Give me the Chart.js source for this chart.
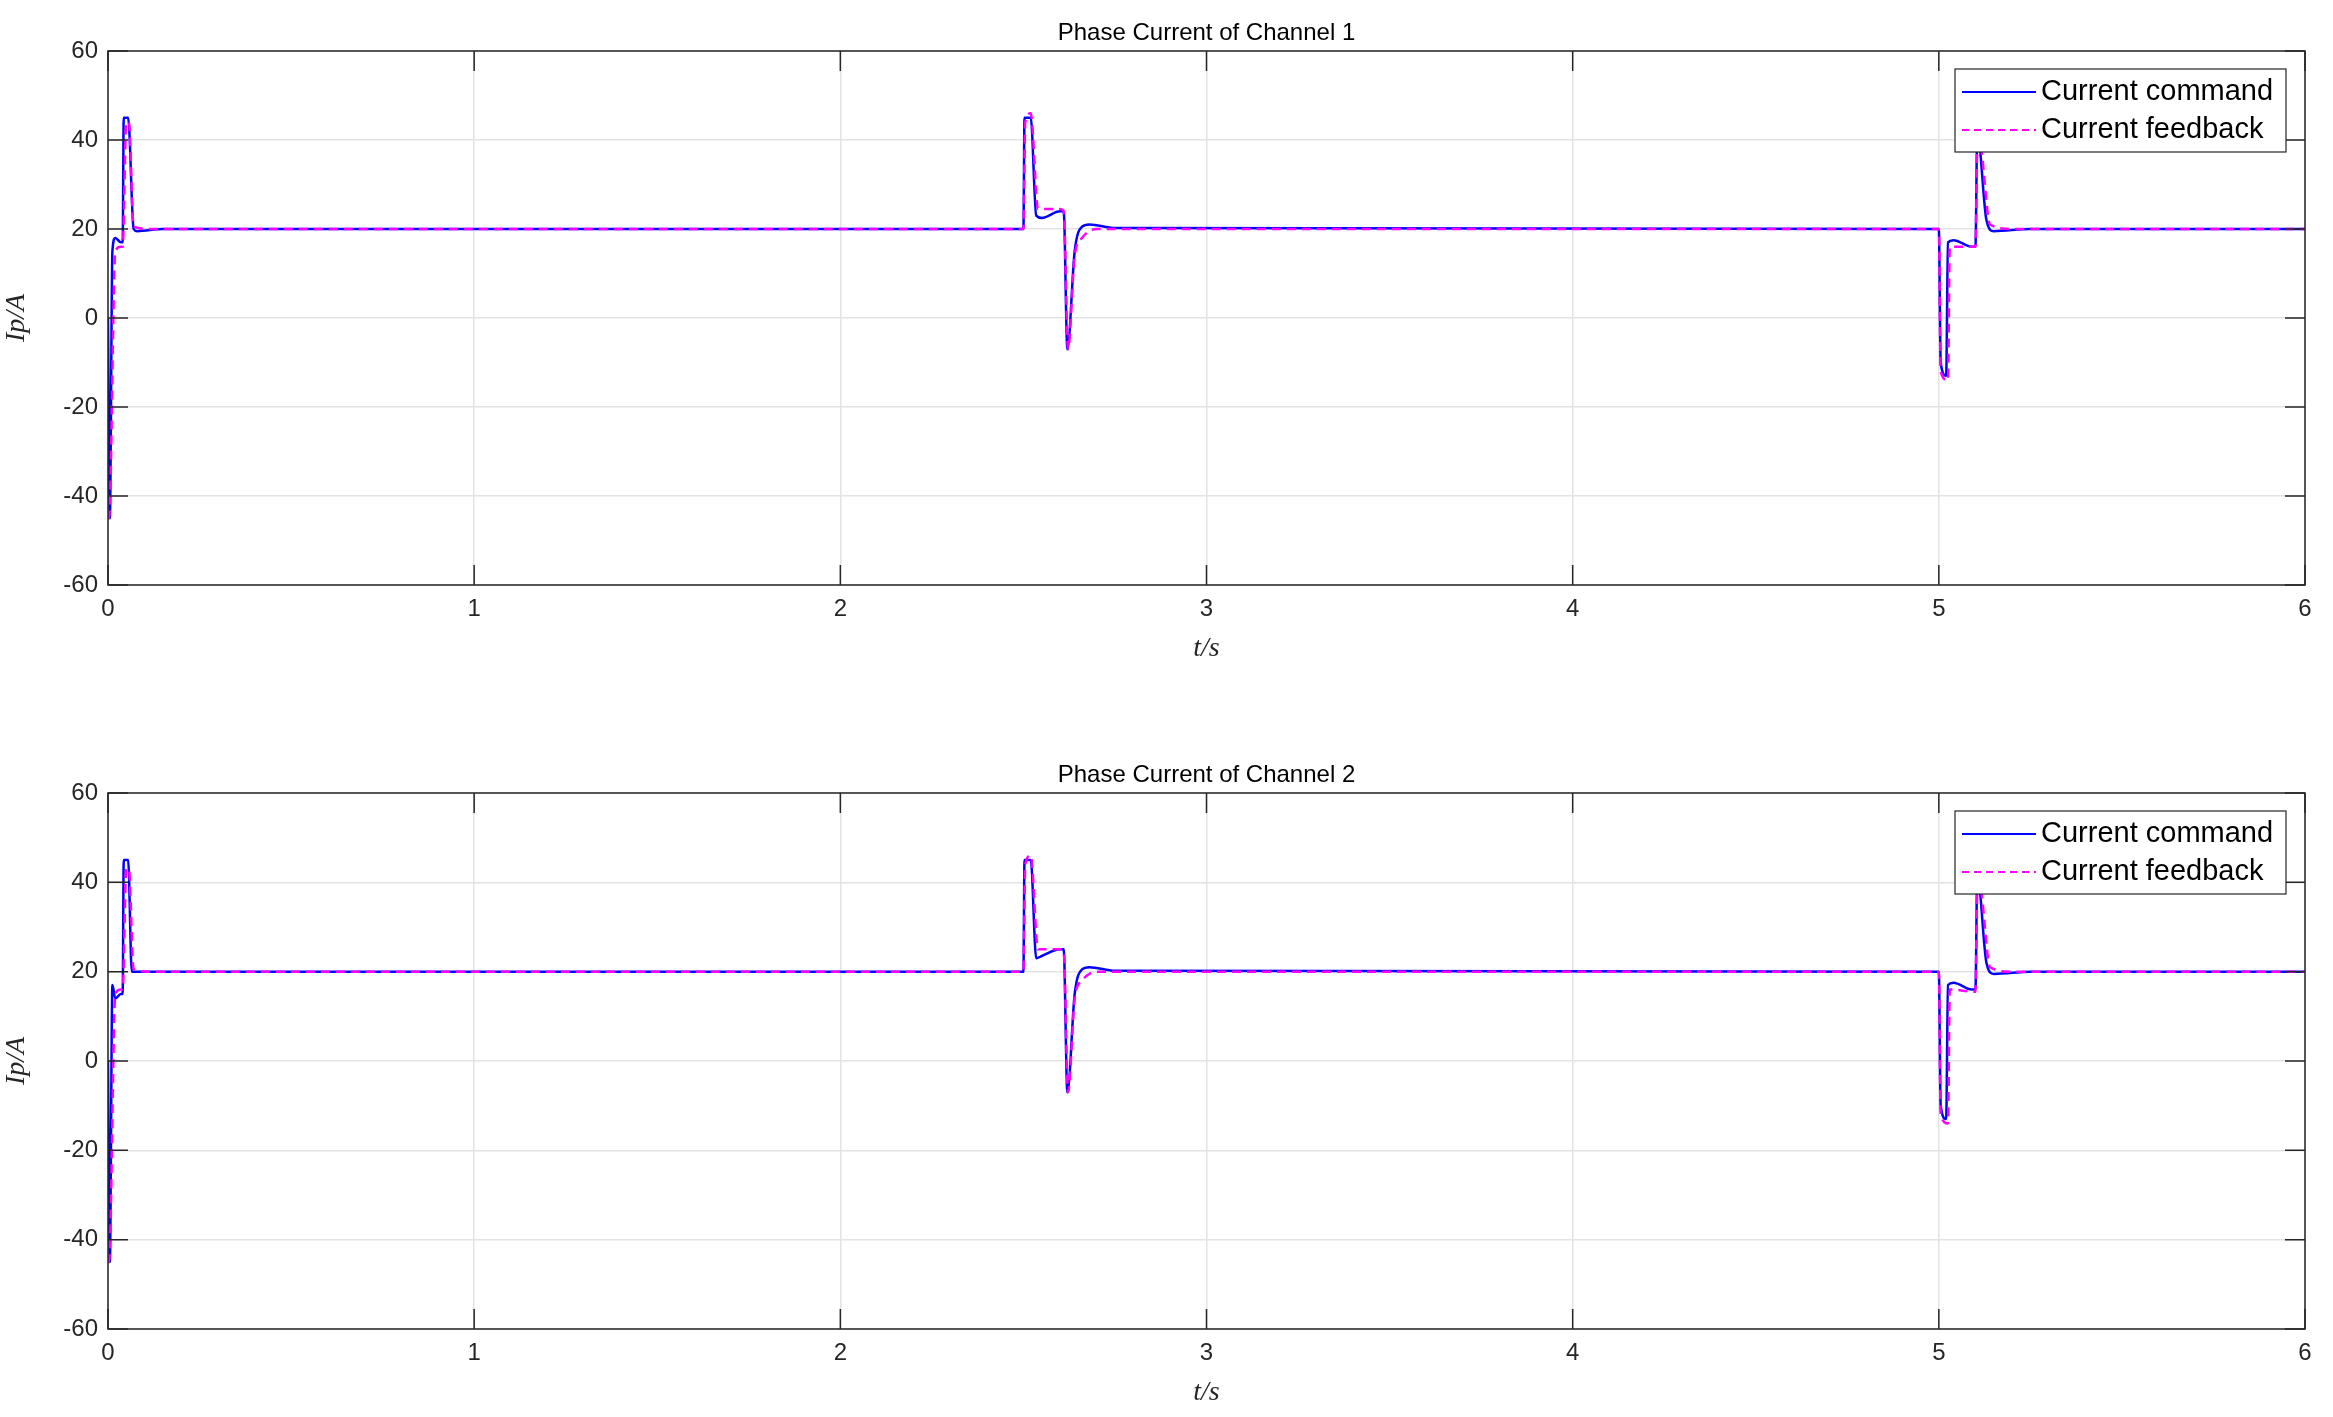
<!DOCTYPE html>
<html>
<head>
<meta charset="utf-8">
<script src="https://cdn.jsdelivr.net/npm/chart.js@4"></script>
<style>
  body { margin: 0; background: #fff; }
  .panel { position: absolute; left: 0; width: 2333px; }
</style>
</head>
<body>
<div class="panel" style="top:0;height:708px"><canvas id="ch1"></canvas></div>
<div class="panel" style="top:708px;height:709px"><canvas id="ch2"></canvas></div>
<script>
// Channel 1
const t1Cmd = [0, 0.005, 0.012, 0.02, 0.035, 0.04, 0.043, 0.055, 0.07, 0.08, 0.15, 2.5, 2.503, 2.52, 2.535, 2.55, 2.6, 2.61, 2.62, 2.64, 2.66, 2.68, 2.75, 5.0, 5.005, 5.02, 5.025, 5.04, 5.09, 5.1, 5.105, 5.11, 5.13, 5.15, 5.25, 6];
const i1Cmd = [0, -45, 15, 18, 17, 17, 45, 45, 20, 19.5, 20, 20, 45, 45, 23, 22.5, 24, 24, -7, 15, 20.5, 21, 20.2, 20, -10, -13, 17, 17.5, 16, 16, 42, 40, 22, 19.5, 20, 20];
const t1Fb = [0, 0.003, 0.02, 0.035, 0.04, 0.05, 0.057, 0.07, 0.12, 2.5, 2.505, 2.52, 2.54, 2.6, 2.61, 2.622, 2.64, 2.66, 2.7, 5.0, 5.005, 5.025, 5.03, 5.1, 5.105, 5.11, 5.14, 5.2, 6];
const i1Fb = [-45, -45, 15, 16, 16, 44, 44, 20.5, 20, 20, 44, 46, 24.5, 24.5, 24, -7, 14, 18, 20, 20, -12, -14, 16, 16, 38, 40, 21, 20, 20];
// Channel 2
const t2Cmd = [0, 0.005, 0.012, 0.02, 0.035, 0.04, 0.043, 0.055, 0.065, 0.1, 2.5, 2.503, 2.52, 2.535, 2.55, 2.6, 2.61, 2.62, 2.64, 2.66, 2.68, 2.75, 5.0, 5.005, 5.02, 5.025, 5.04, 5.09, 5.1, 5.105, 5.11, 5.13, 5.15, 5.25, 6];
const i2Cmd = [0, -45, 17, 14, 15, 15, 45, 45, 20, 20, 20, 45, 45, 23, 23.5, 25, 25, -7, 15, 20.5, 21, 20.2, 20, -10, -13, 17, 17.5, 16, 16, 42, 40, 22, 19.5, 20, 20];
const t2Fb = [0, 0.003, 0.02, 0.035, 0.04, 0.05, 0.057, 0.07, 0.12, 2.5, 2.505, 2.52, 2.54, 2.6, 2.61, 2.622, 2.64, 2.66, 2.7, 5.0, 5.005, 5.025, 5.03, 5.1, 5.105, 5.11, 5.14, 5.2, 6];
const i2Fb = [-45, -45, 15, 16, 16, 43, 43, 20.5, 20, 20, 44, 46, 25, 25, 24.5, -7, 14, 18, 20, 20, -12, -14, 16, 15.5, 38, 40, 21, 20, 20];

const xTicks = [0, 1, 2, 3, 4, 5, 6];
const yTicks = [-60, -40, -20, 0, 20, 40, 60];
const seriesNames = ['Current command', 'Current feedback'];

function pts(t, v) { return t.map((x, k) => ({ x: x, y: v[k] })); }

const frame = {
  id: 'frame',
  afterDraw(chart, args, opts) {
    const { ctx, chartArea: a } = chart;
    ctx.save();
    ctx.strokeStyle = '#262626';
    ctx.lineWidth = 1.5;
    ctx.strokeRect(a.left, a.top, a.right - a.left, a.bottom - a.top);
    // inward ticks
    ctx.beginPath();
    const xs = chart.scales.x, ys = chart.scales.y;
    xTicks.forEach(v => {
      const px = xs.getPixelForValue(v);
      ctx.moveTo(px, a.bottom); ctx.lineTo(px, a.bottom - 20);
      ctx.moveTo(px, a.top); ctx.lineTo(px, a.top + 20);
    });
    yTicks.forEach(v => {
      const py = ys.getPixelForValue(v);
      ctx.moveTo(a.left, py); ctx.lineTo(a.left + 20, py);
      ctx.moveTo(a.right, py); ctx.lineTo(a.right - 20, py);
    });
    ctx.stroke();
    // title
    ctx.fillStyle = '#000';
    ctx.font = '24px "Liberation Sans", Arial, sans-serif';
    ctx.textAlign = 'center';
    ctx.textBaseline = 'bottom';
    ctx.fillText(opts.title, (a.left + a.right) / 2, a.top - 6);
    // legend
    const w = 331, h = 83, lx = a.right - 19 - w, ly = a.top + 18;
    ctx.fillStyle = '#fff';
    ctx.fillRect(lx, ly, w, h);
    ctx.strokeStyle = '#262626';
    ctx.lineWidth = 1.2;
    ctx.strokeRect(lx, ly, w, h);
    ctx.font = '29px "Liberation Sans", Arial, sans-serif';
    ctx.textAlign = 'left';
    ctx.textBaseline = 'middle';
    const rows = [ly + 23, ly + 61];
    ['#0000ff', '#ff00ff'].forEach((c, k) => {
      ctx.beginPath();
      ctx.strokeStyle = c;
      ctx.lineWidth = 2;
      ctx.setLineDash(k ? [7, 5] : []);
      ctx.moveTo(lx + 7, rows[k]); ctx.lineTo(lx + 81, rows[k]);
      ctx.stroke();
      ctx.setLineDash([]);
      ctx.fillStyle = '#000';
      ctx.fillText(seriesNames[k], lx + 86, rows[k]);
    });
    ctx.restore();
  }
};

function makeChart(id, title, cmd, fb, padTop, padBottom) {
  new Chart(document.getElementById(id), {
    type: 'line',
    data: {
      datasets: [
        { label: seriesNames[0], data: cmd, order: 2, borderColor: '#0000ff', borderWidth: 2.5, pointRadius: 0, cubicInterpolationMode: 'monotone' },
        { label: seriesNames[1], data: fb, order: 1, borderColor: '#ff00ff', borderWidth: 2.5, borderDash: [9, 6], pointRadius: 0, cubicInterpolationMode: 'monotone' }
      ]
    },
    options: {
      responsive: true,
      maintainAspectRatio: false,
      animation: false,
      layout: { padding: { top: padTop, bottom: padBottom, left: 0, right: 28 } },
      plugins: { legend: { display: false }, tooltip: { enabled: false }, frame: { title: title } },
      scales: {
        x: {
          type: 'linear', min: 0, max: 6,
          afterBuildTicks: s => { s.ticks = xTicks.map(v => ({ value: v })); },
          afterFit: s => { s.height = 80; },
          grid: { color: '#e3e3e3', lineWidth: 1.5, drawTicks: false },
          border: { display: false },
          ticks: { color: '#262626', padding: 10, font: { size: 24, family: '"Liberation Sans", Arial' } },
          title: { display: true, text: 't/s', color: '#262626', padding: 0, font: { size: 28, style: 'italic', family: '"Liberation Serif", serif' } }
        },
        y: {
          min: -60, max: 60,
          afterBuildTicks: s => { s.ticks = yTicks.map(v => ({ value: v })); },
          afterFit: s => { s.width = 108; },
          grid: { color: '#e3e3e3', lineWidth: 1.5, drawTicks: false },
          border: { display: false },
          ticks: { color: '#262626', padding: 10, font: { size: 24, family: '"Liberation Sans", Arial' } },
          title: { display: true, text: 'Ip/A', color: '#262626', padding: 0, font: { size: 28, style: 'italic', family: '"Liberation Serif", serif' } }
        }
      }
    },
    plugins: [frame]
  });
}

makeChart('ch1', 'Phase Current of Channel 1', pts(t1Cmd, i1Cmd), pts(t1Fb, i1Fb), 51, 43);
makeChart('ch2', 'Phase Current of Channel 2', pts(t2Cmd, i2Cmd), pts(t2Fb, i2Fb), 85, 8);
</script>
</body>
</html>
